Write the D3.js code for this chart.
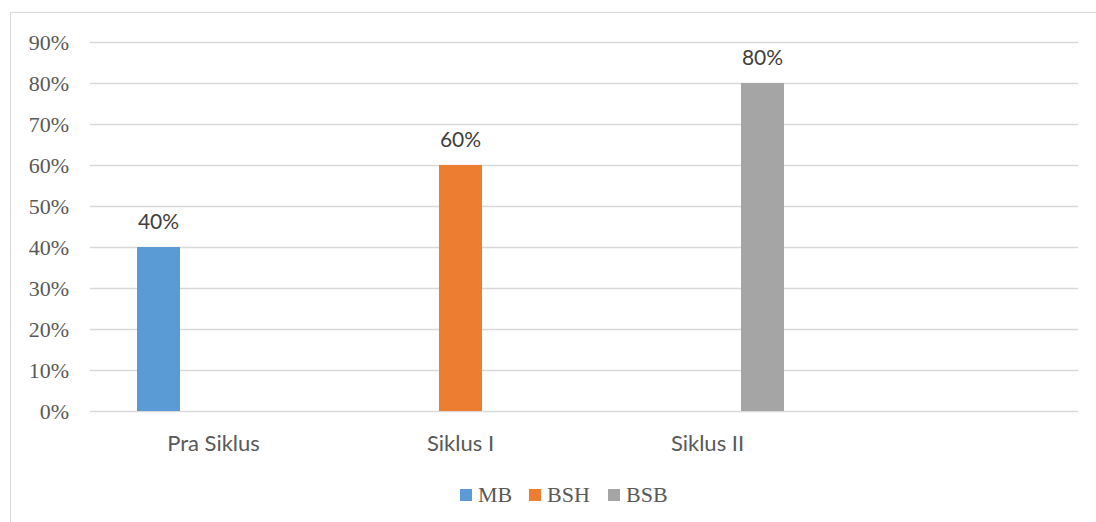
<!DOCTYPE html>
<html><head><meta charset="utf-8">
<script src="https://cdn.jsdelivr.net/npm/d3@7"></script>
<style>body{margin:0;background:#fff}svg{display:block}</style>
</head><body>
<svg id="c" width="1096" height="522"></svg>
<script>
const categories = ["Pra Siklus", "Siklus I", "Siklus II", ""];
const seriesNames = ["MB", "BSH", "BSB"];
const mbValues  = [0.40, null, null, null];
const bshValues = [null, 0.60, null, null];
const bsbValues = [null, null, 0.80, null];
const yTicks = [0, 0.1, 0.2, 0.3, 0.4, 0.5, 0.6, 0.7, 0.8, 0.9];
const colors = ["#5B9BD5", "#ED7D31", "#A5A5A5"];

const seriesValues = [mbValues, bshValues, bsbValues];
const svg = d3.select("#c");
const textColor = "#595959";

svg.append("rect").attr("x", 10.5).attr("y", 12.5).attr("width", 1100).attr("height", 520)
  .attr("fill", "none").attr("stroke", "#D9D9D9").attr("stroke-width", 1);

const x0 = d3.scaleBand().domain(categories).range([90, 1078]).padding(0);
const x1 = d3.scaleBand().domain(seriesNames).range([47, 200]).paddingInner(0.218).paddingOuter(0);
const y = d3.scaleLinear().domain([0, 0.9]).range([411, 42]);

const yAxis = d3.axisLeft(y).tickValues(yTicks).tickFormat(d3.format(".0%")).tickSize(-(1078 - 90)).tickPadding(21);
const gy = svg.append("g").attr("transform", "translate(90,0)").call(yAxis);
gy.select(".domain").remove();
gy.selectAll(".tick line").attr("stroke", "#D9D9D9").attr("stroke-width", 1.5);
gy.selectAll(".tick text").attr("fill", textColor).style("font-family", "'Liberation Serif', serif").style("font-size", "22px");

const xAxis = d3.axisBottom(x0).tickSize(0).tickPadding(24);
const gx = svg.append("g").attr("transform", "translate(0,411)").call(xAxis);
gx.select(".domain").remove();
gx.selectAll(".tick text").attr("fill", textColor).style("font-family", "Lato, sans-serif").style("font-size", "22px");

const bars = [];
seriesValues.forEach((vals, si) => {
  vals.forEach((v, ci) => {
    if (v !== null) bars.push({s: seriesNames[si], c: categories[ci], v, color: colors[si]});
  });
});

svg.append("g").selectAll("rect").data(bars).join("rect")
  .attr("x", d => x0(d.c) + x1(d.s))
  .attr("y", d => y(d.v))
  .attr("width", x1.bandwidth())
  .attr("height", d => y(0) - y(d.v))
  .attr("fill", d => d.color);

svg.append("g").selectAll("text").data(bars).join("text")
  .attr("x", d => x0(d.c) + x1(d.s) + x1.bandwidth() / 2)
  .attr("y", d => y(d.v) - 18)
  .attr("text-anchor", "middle")
  .attr("fill", "#404040")
  .style("font-family", "Lato, sans-serif").style("font-size", "21px")
  .text(d => d3.format(".0%")(d.v));

const legendX = [460, 529, 608];
const lg = svg.append("g");
seriesNames.forEach((n, i) => {
  lg.append("rect").attr("x", legendX[i]).attr("y", 489).attr("width", 12).attr("height", 12).attr("fill", colors[i]);
  lg.append("text").attr("x", legendX[i] + 18).attr("y", 502).attr("fill", textColor)
    .style("font-family", "'Liberation Serif', serif").style("font-size", "22px").text(n);
});
</script>
</body></html>
